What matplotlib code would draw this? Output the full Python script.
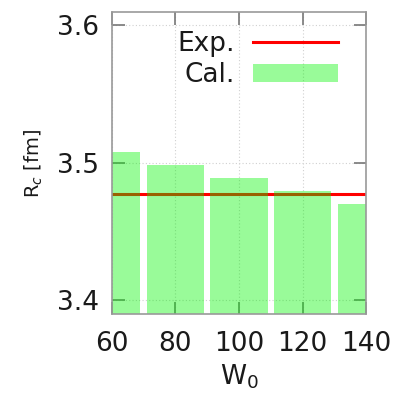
import matplotlib
matplotlib.use("Agg")
import matplotlib.pyplot as plt

# Calculated charge radii vs W0, and the experimental value
w0 = [60, 80, 100, 120, 140]
rc_cal = [3.5075, 3.4985, 3.489, 3.4795, 3.470]
rc_exp = 3.4772
xticks = [60, 80, 100, 120, 140]
yticks = [3.4, 3.5, 3.6]

fig = plt.figure(figsize=(4.01, 4.04), dpi=100)
ax = fig.add_axes([0.279, 0.223, 0.634, 0.747])

ax.axhline(rc_exp, color="#ff0000", lw=2.2, zorder=2, label="Exp.")
ax.bar(w0, rc_cal, width=18, bottom=0, color=(0.0, 0.96, 0.0), alpha=0.4,
       linewidth=0, zorder=3, label="Cal.")

ax.set_xlim(60, 140)
ax.set_ylim(3.39, 3.6095)
ax.set_xticks(xticks)
ax.set_xticklabels([str(t) for t in xticks])
ax.set_yticks(yticks)
ax.set_yticklabels(["3.4", "3.5", "3.6"])

ax.grid(True, color="#d0d0d0", linestyle=(0, (1, 2)), linewidth=0.8, zorder=1)
ax.set_axisbelow(True)
ax.tick_params(direction="in", length=9, width=1.2, color="#777777",
               top=True, right=True, labelsize=19, pad=9, labelcolor="#1a1a1a")
ax.tick_params(axis="x", pad=12)
for s in ax.spines.values():
    s.set_color("#999999")
    s.set_linewidth(1.2)
    s.set_zorder(5)

ax.set_xlabel("W$_0$", fontsize=19, labelpad=4, color="#1a1a1a")
ax.set_ylabel("R$_c$ [fm]", fontsize=14, labelpad=9, color="#1a1a1a")

leg = ax.legend(loc="upper right", frameon=False, fontsize=19, markerfirst=False,
                handlelength=3.2, handletextpad=0.7, labelspacing=0.2,
                bbox_to_anchor=(0.95, 0.99), borderaxespad=0.2)
for t in leg.get_texts():
    t.set_ha("right")
    t.set_color("#1a1a1a")

fig.savefig("out.png", dpi=100)
